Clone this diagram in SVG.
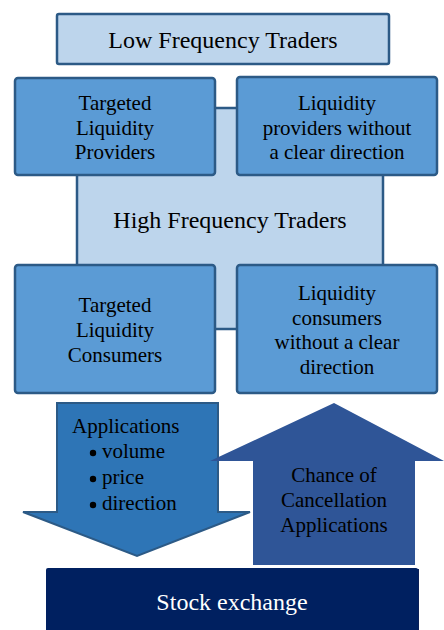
<svg xmlns="http://www.w3.org/2000/svg" width="444" height="630" viewBox="0 0 444 630">
<style>
.t{font-family:'Liberation Serif','DejaVu Serif',Times,serif;font-size:21px;fill:#000;text-anchor:middle}
.big{font-size:24px}
.light{fill:#BDD5EC;stroke:#2C5A86;stroke-width:2.5}
.mid{fill:#5B9BD5;stroke:#2C5A86;stroke-width:2.5}
</style>
<g font-family="Liberation Serif, serif">
<g id="hft">
<rect class="light" x="77" y="108" width="306" height="221"/>
<text class="t big" x="230" y="228">High Frequency Traders</text>
</g>
<g id="lft">
<rect class="light" x="57" y="14" width="332" height="50" rx="2"/>
<text class="t big" x="223" y="48">Low Frequency Traders</text>
</g>
<g id="tlp">
<rect class="mid" x="15" y="78" width="200" height="97" rx="3"/>
<text class="t" x="115" y="110">Targeted</text>
<text class="t" x="115" y="134.5">Liquidity</text>
<text class="t" x="115" y="159">Providers</text>
</g>
<g id="lpw">
<rect class="mid" x="237" y="77" width="200" height="98" rx="3"/>
<text class="t" x="337" y="110">Liquidity</text>
<text class="t" x="337" y="134.5">providers without</text>
<text class="t" x="337" y="159">a clear direction</text>
</g>
<g id="tlc">
<rect class="mid" x="15" y="265" width="200" height="128" rx="3"/>
<text class="t" x="115" y="312">Targeted</text>
<text class="t" x="115" y="337">Liquidity</text>
<text class="t" x="115" y="362">Consumers</text>
</g>
<g id="lcw">
<rect class="mid" x="237" y="265" width="200" height="128" rx="3"/>
<text class="t" x="337" y="300">Liquidity</text>
<text class="t" x="337" y="324.5">consumers</text>
<text class="t" x="337" y="349">without a clear</text>
<text class="t" x="337" y="373.5">direction</text>
</g>
<g id="connectors">
<g id="applications">
<polygon points="57,403 218,403 218,512 250,512 137,556 23,512 57,512" fill="#2E75B6" stroke="#2C5A86" stroke-width="2"/>
<text class="t" x="72" y="433" style="text-anchor:start">Applications</text>
<circle cx="93" cy="453" r="3.2" fill="#000"/>
<circle cx="93" cy="479" r="3.2" fill="#000"/>
<circle cx="93" cy="505" r="3.2" fill="#000"/>
<text class="t" x="102" y="458" style="text-anchor:start">volume</text>
<text class="t" x="102" y="484" style="text-anchor:start">price</text>
<text class="t" x="102" y="510" style="text-anchor:start">direction</text>
</g>
<g id="cancellation">
<polygon points="334,403 444,461 415,461 415,565 253,565 253,461 210,461" fill="#2F5597"/>
<text class="t" x="334" y="482">Chance of</text>
<text class="t" x="334" y="507">Cancellation</text>
<text class="t" x="334" y="532">Applications</text>
</g>
</g>
<g id="exchange">
<rect x="47" y="569" width="372" height="64" fill="#0B1F55"/>
<rect x="46" y="568" width="372" height="64" rx="2" fill="#002060"/>
<text class="t big" x="232" y="610" style="fill:#fff">Stock exchange</text>
</g>
</g>
</svg>
